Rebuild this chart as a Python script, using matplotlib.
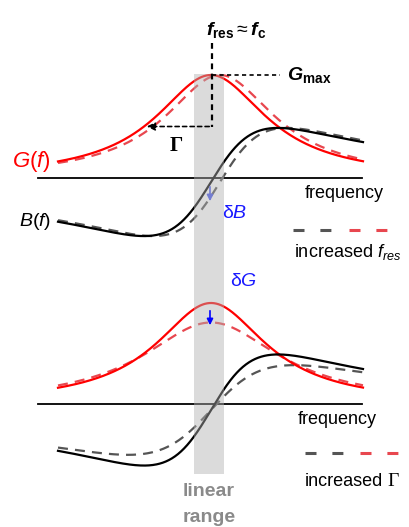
import numpy as np
import matplotlib
matplotlib.use("Agg")
import matplotlib.pyplot as plt

plt.rcParams['font.family'] = ['Liberation Sans', 'DejaVu Sans']
plt.rcParams['mathtext.fontset'] = 'custom'
plt.rcParams['mathtext.rm'] = 'Liberation Sans'
plt.rcParams['mathtext.it'] = 'Liberation Sans:italic'
plt.rcParams['mathtext.bf'] = 'Liberation Sans:bold'
plt.rcParams['mathtext.bfit'] = 'Liberation Sans:bold:italic'

# schematic values (drawing units, y grows downwards)
f_range = [58, 363]              # frequency span of the curves
baselines = [178, 404]           # zero line of top / bottom panel
f_res = [211, 211]               # resonance of the reference curves
f_res_shift = [220, 211]         # resonance of the dashed curves
gamma = [67, 67]                 # half width of the reference curves
gamma_new = [67, 83]             # half width of the dashed curves
g_max = [103, 101]               # peak conductance
b_scale = [1.05, 1.1]            # B amplitude factor
b_offset = [-4, -6]

linear_range = [194, 224]        # gray band
band_y = [74, 474]

red = '#ff0000'
red_d = '#e8474f'
gray_d = '#555555'


def G(f, f0, g, a, g_ref):
    return a * g_ref * g / ((f - f0) ** 2 + g ** 2)


def B(f, f0, g, a, g_ref, k, off):
    return k * a * g_ref * (f - f0) / ((f - f0) ** 2 + g ** 2) + off


fig = plt.figure(figsize=(4.1, 5.27), dpi=100)
ax = fig.add_axes([0, 0, 1, 1])
ax.set_xlim(0, 410)
ax.set_ylim(527, 0)
ax.axis('off')

f = np.linspace(f_range[0], f_range[1], 400)
dash = (4.5, 3.2)

for i in range(2):
    y0 = baselines[i]
    g0 = gamma[i]
    # zero line
    ax.plot([38, 362], [y0, y0], color='black', lw=1.3, zorder=2)
    # dashed (changed) curves
    ax.plot(f, y0 - G(f, f_res_shift[i], gamma_new[i], g_max[i], g0),
            color=red_d, lw=1.6, dashes=dash, zorder=3)
    ax.plot(f, y0 - B(f, f_res_shift[i], gamma_new[i], g_max[i], g0,
                      b_scale[i], b_offset[i]),
            color=gray_d, lw=1.6, dashes=dash, zorder=3)
    # reference curves
    ax.plot(f, y0 - G(f, f_res[i], g0, g_max[i], g0), color=red, lw=1.6, zorder=4)
    ax.plot(f, y0 - B(f, f_res[i], g0, g_max[i], g0, b_scale[i], b_offset[i]),
            color='black', lw=1.6, zorder=4)

# linear range band
ax.fill_between(linear_range, band_y[0], band_y[1], color='#b0b0b0',
                alpha=0.45, lw=0, zorder=6)
ax.text(sum(linear_range) / 2, 492, 'linear', ha='center', va='center',
        fontsize=14, fontweight='bold', color='#8a8a8a')
ax.text(sum(linear_range) / 2, 517, 'range', ha='center', va='center',
        fontsize=14, fontweight='bold', color='#8a8a8a')

# resonance markers
top = baselines[0] - g_max[0]
half = baselines[0] - g_max[0] / 2
ax.plot([212, 212], [43, half], color='black', lw=1.6, dashes=(2.6, 2), zorder=7)
ax.plot([212, 280], [top, top], color='black', lw=1.2, dashes=(2.5, 2), zorder=7)
ax.annotate('', xy=(f_res[0] - gamma[0], half), xytext=(212, half),
            arrowprops=dict(arrowstyle='-|>', color='black', lw=1.2,
                            linestyle=(0, (2.5, 2)), mutation_scale=12),
            zorder=7)
ax.text(236, 30, r'$\mathbfit{f}_{\mathbf{res}}\approx\mathbfit{f}_{\mathbf{c}}$',
        ha='center', va='center', fontsize=14)
ax.text(287, 75, r'$\mathbfit{G}_{\mathbf{max}}$', ha='left', va='center',
        fontsize=14)
ax.text(176, 146, 'Γ', ha='center', va='center', fontsize=15,
        family='Liberation Serif', fontweight='bold')

# curve labels
ax.text(51, 162, r'$\mathit{G}(\mathit{f})$', ha='right', va='center',
        fontsize=16, color=red)
ax.text(51, 222, r'$\mathit{B}(\mathit{f})$', ha='right', va='center',
        fontsize=14, color='black')
ax.text(305, 193, 'frequency', ha='left', va='center', fontsize=13)
ax.text(298, 420, 'frequency', ha='left', va='center', fontsize=13)

# changes
ax.annotate('', xy=(210, 204), xytext=(210, 184),
            arrowprops=dict(arrowstyle='-|>', color='#4455ee', lw=1.2,
                            mutation_scale=9), zorder=5)
ax.text(222, 213, r'δ$\mathit{B}$', ha='left', va='center',
        fontsize=14, color='#1a1aff')
ax.annotate('', xy=(210, 328), xytext=(210, 308),
            arrowprops=dict(arrowstyle='-|>', color='#0000ff', lw=1.2,
                            mutation_scale=9), zorder=8)
ax.text(230, 282, r'δ$\mathit{G}$', ha='left', va='center',
        fontsize=14, color='#1a1aff')

# legends
ax.plot([293, 332], [230, 230], color=gray_d, lw=2.2, dashes=(3.6, 5.2))
ax.plot([349, 388], [230, 230], color=red_d, lw=2.2, dashes=(3.6, 5.2))
ax.text(294, 252, r'increased $\mathit{f}_{\mathit{res}}$', ha='left',
        va='center', fontsize=13)
ax.plot([305, 344], [453, 453], color=gray_d, lw=2.2, dashes=(3.6, 5.2))
ax.plot([360, 399], [453, 453], color=red_d, lw=2.2, dashes=(3.6, 5.2))
t = ax.text(305, 481, 'increased', ha='left', va='center', fontsize=13)
fig.canvas.draw()
x_end = ax.transData.inverted().transform(
    t.get_window_extent(fig.canvas.get_renderer()).get_points())[1, 0]
ax.text(x_end + 4, 481, 'Γ', ha='left', va='center', fontsize=14,
        family='Liberation Serif')

fig.savefig('out.png', dpi=100)
